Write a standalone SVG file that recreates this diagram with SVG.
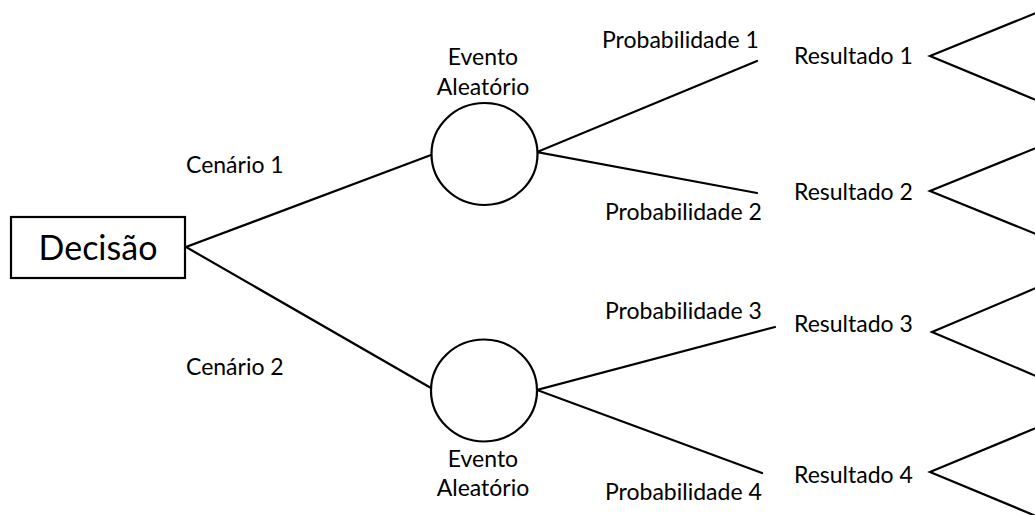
<svg xmlns="http://www.w3.org/2000/svg" width="1035" height="515" viewBox="0 0 1035 515">
  <style>
    .shape { fill: #ffffff; stroke: #000000; stroke-width: 2.2; }
    .edge { fill: none; stroke: #000000; stroke-width: 2.2; stroke-linecap: round; stroke-linejoin: miter; }
    .lbl { font-family: Lato, "Open Sans", "Liberation Sans", sans-serif; font-size: 23px; fill: #000000; }
    .mid { text-anchor: middle; }
    .big { font-size: 34px; }
  </style>
  <rect width="1035" height="515" fill="#ffffff"/>

  <!-- branches -->
  <g id="connectors">
    <polyline class="edge" points="431,155 186,247 431,388"/>
    <polyline class="edge" points="757,61 537,152 757,193"/>
    <polyline class="edge" points="775,327 537,390 762,473"/>
    <polyline class="edge" points="1036,13 930,56 1036,100"/>
    <polyline class="edge" points="1036,148 930,191 1036,234"/>
    <polyline class="edge" points="1036,288 932,332 1036,376"/>
    <polyline class="edge" points="1036,428 930,472 1036,516"/>
  </g>

  <g id="decisao">
    <rect class="shape" x="11" y="217" width="174" height="61"/>
    <text class="lbl big mid" x="98" y="260">Decisão</text>
  </g>

  <g id="evento1">
    <ellipse class="shape" cx="484.5" cy="154" rx="53" ry="51"/>
    <text class="lbl mid" x="483" y="65">Evento</text>
    <text class="lbl mid" x="483" y="95">Aleatório</text>
  </g>

  <g id="evento2">
    <ellipse class="shape" cx="484" cy="390.5" rx="53" ry="51"/>
    <text class="lbl mid" x="483" y="467">Evento</text>
    <text class="lbl mid" x="483" y="496">Aleatório</text>
  </g>

  <g id="cenarios">
    <text class="lbl" x="186" y="173">Cenário 1</text>
    <text class="lbl" x="186" y="375">Cenário 2</text>
  </g>

  <g id="probabilidades">
    <text class="lbl" x="602" y="48">Probabilidade 1</text>
    <text class="lbl" x="605" y="220">Probabilidade 2</text>
    <text class="lbl" x="605" y="319">Probabilidade 3</text>
    <text class="lbl" x="605" y="500">Probabilidade 4</text>
  </g>

  <g id="resultados">
    <text class="lbl" x="794" y="64">Resultado 1</text>
    <text class="lbl" x="794" y="200">Resultado 2</text>
    <text class="lbl" x="794" y="332">Resultado 3</text>
    <text class="lbl" x="794" y="483">Resultado 4</text>
  </g>
</svg>
